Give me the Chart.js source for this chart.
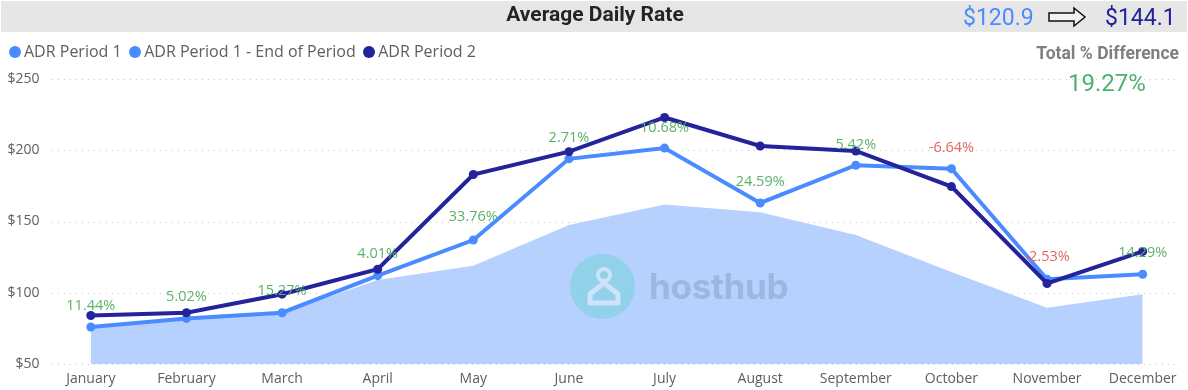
<!DOCTYPE html>
<html>
<head>
<meta charset="utf-8">
<script src="https://cdn.jsdelivr.net/npm/chart.js@4"></script>
<style>
  html, body { margin: 0; padding: 0; background: #fff; overflow: hidden; }
  #wrap { position: relative; width: 1188px; height: 390px; overflow: hidden; font-family: "Open Sans", sans-serif; }
  #canvasBox { position: absolute; left: 0; top: 0; width: 1195px; height: 390px; }
  #titleBar { position: absolute; left: 1px; top: 1px; width: 1186px; height: 31px; background: #e6e6e6; }
  #title { position: absolute; left: 0; width: 1190px; top: 2px; text-align: center; font: bold 21px Roboto, sans-serif; color: #252423; }
  .kpi { position: absolute; top: 4px; font: 23px Roboto, sans-serif; }
  #arrow { position: absolute; left: 1048px; top: 6px; }
  #diffLabel { position: absolute; right: 9px; top: 43px; font: bold 17.5px Roboto, sans-serif; color: #7f7f7f; }
  #diffValue { position: absolute; left: 1068px; top: 69px; font: 24px Roboto, sans-serif; color: #4fb06d; }
  #logo { position: absolute; left: 570px; top: 254px; width: 65px; height: 65px; opacity: .8; }
  #logoText { position: absolute; left: 649px; top: 265px; font: bold 35px Inter, sans-serif; color: #5b6b8c; opacity: .26; letter-spacing: -.3px; }
  #legend { position: absolute; left: 8.5px; top: 40px; font: 16px "Open Sans", sans-serif; color: #605e5c; white-space: nowrap; }
  #legend span.dot { display: inline-block; width: 12.5px; height: 12.5px; border-radius: 50%; margin-right: 3px; vertical-align: -1px; }
  #legend span.item { margin-right: 7px; }
</style>
</head>
<body>
<div id="wrap">
  <div id="canvasBox"><canvas id="adrChart"></canvas></div>
  <div id="titleBar"></div>
  <div id="title">Average Daily Rate</div>
  <div class="kpi" style="left:963px;color:#4a8cff">$120.9</div>
  <svg id="arrow" width="40" height="22" viewBox="0 0 40 22"><path d="M1 7H26V2L37 11L26 20V15H1Z" fill="#f2f2f2" stroke="#111" stroke-width="1.5"/></svg>
  <div class="kpi" style="left:1105px;color:#23239b">$144.1</div>
  <div id="diffLabel">Total % Difference</div>
  <div id="diffValue">19.27%</div>
  <div id="legend"></div>
  <svg id="logo" viewBox="0 0 65 65">
    <circle cx="32.5" cy="32.5" r="32.5" fill="#89d2e5"/>
    <circle cx="34" cy="21" r="6" fill="none" stroke="#d6e6fb" stroke-width="4"/>
    <path d="M34 29L20 40V49H48V40Z" fill="none" stroke="#d6e6fb" stroke-width="5" stroke-linejoin="round"/>
  </svg>
  <div id="logoText">hosthub</div>
</div>
<script>
const months = ['January', 'February', 'March', 'April', 'May', 'June', 'July', 'August', 'September', 'October', 'November', 'December'];
const adrPeriod1 = [76, 82, 86, 112, 137, 194, 201.5, 163, 189.5, 187, 109.5, 113];
const adrPeriod1End = [76, 82, 86, 109, 119, 147.5, 162, 156.5, 140.5, 114.5, 89.5, 99];
const adrPeriod2 = [84, 86, 99, 116.5, 183, 199, 223, 203, 199.5, 174.5, 106.5, 129];
const diffLabels = ['11.44%', '5.02%', '15.27%', '4.01%', '33.76%', '2.71%', '10.68%', '24.59%', '5.42%', '-6.64%', '-2.53%', '14.29%'];
const labelAnchors = [91, 97, 101, 127, 153, 209, 216, 178, 204, 201.5, 125, 128];
const yTicks = [50, 100, 150, 200, 250];

const colP1 = '#4a8cff', colP2 = '#23239b', colArea = '#b6d1fe';

document.getElementById('legend').innerHTML = [
  ['ADR Period 1', colP1], ['ADR Period 1 - End of Period', colP1], ['ADR Period 2', colP2]
].map(l => `<span class="item"><span class="dot" style="background:${l[1]}"></span>${l[0]}</span>`).join('');

// dotted gridlines stop short of the right edge, and sit on top of the area
const dottedGrid = {
  id: 'dottedGrid',
  afterDatasetDraw(chart, args) {
    if (args.index !== 2) return;
    const ctx = chart.ctx, y = chart.scales.y;
    ctx.save();
    ctx.strokeStyle = '#c4c6cc';
    ctx.lineWidth = 1;
    ctx.setLineDash([1, 5]);
    yTicks.forEach(v => {
      const p = Math.round(y.getPixelForValue(v)) + .5;
      ctx.beginPath();
      ctx.moveTo(52, p);
      ctx.lineTo(1179, p);
      ctx.stroke();
    });
    ctx.restore();
  }
};

const diffText = {
  id: 'diffText',
  afterDatasetsDraw(chart) {
    const ctx = chart.ctx, x = chart.scales.x, y = chart.scales.y;
    ctx.save();
    ctx.font = '14.5px "Open Sans", sans-serif';
    ctx.textAlign = 'center';
    ctx.textBaseline = 'middle';
    diffLabels.forEach((t, i) => {
      ctx.fillStyle = t[0] === '-' ? '#e0695f' : '#5cb06a';
      ctx.fillText(t, x.getPixelForValue(i), y.getPixelForValue(labelAnchors[i]));
    });
    ctx.restore();
  }
};

new Chart(document.getElementById('adrChart'), {
  type: 'line',
  data: {
    labels: months,
    datasets: [
      { label: 'ADR Period 2', data: adrPeriod2, borderColor: colP2, backgroundColor: colP2, borderWidth: 4, pointRadius: 4.5, pointBorderWidth: 0, tension: 0, order: 1 },
      { label: 'ADR Period 1', data: adrPeriod1, borderColor: colP1, backgroundColor: colP1, borderWidth: 4, pointRadius: 4.5, pointBorderWidth: 0, tension: 0, order: 2 },
      { label: 'ADR Period 1 - End of Period', data: adrPeriod1End, borderWidth: 0, backgroundColor: colArea, pointRadius: 0, fill: 'start', tension: 0, order: 3 }
    ]
  },
  options: {
    responsive: true,
    maintainAspectRatio: false,
    animation: false,
    layout: { padding: { left: 0, right: 0, top: 79, bottom: 0 } },
    plugins: { legend: { display: false }, tooltip: { enabled: false } },
    scales: {
      x: {
        offset: true,
        afterFit(s) { s.height = 26; s.paddingLeft = 0; s.paddingRight = 0; },
        grid: { display: false, drawTicks: false },
        border: { display: false },
        ticks: { color: '#605e5c', font: { family: '"Open Sans"', size: 14 }, padding: 7, maxRotation: 0, autoSkip: false }
      },
      y: {
        min: 50, max: 250,
        afterFit(s) { s.width = 43; },
        grid: { display: false, drawTicks: false },
        border: { display: false },
        ticks: { stepSize: 50, color: '#605e5c', font: { family: '"Open Sans"', size: 14 }, padding: 3.5, callback: v => '$' + v }
      }
    }
  },
  plugins: [dottedGrid, diffText]
});
</script>
</body>
</html>
